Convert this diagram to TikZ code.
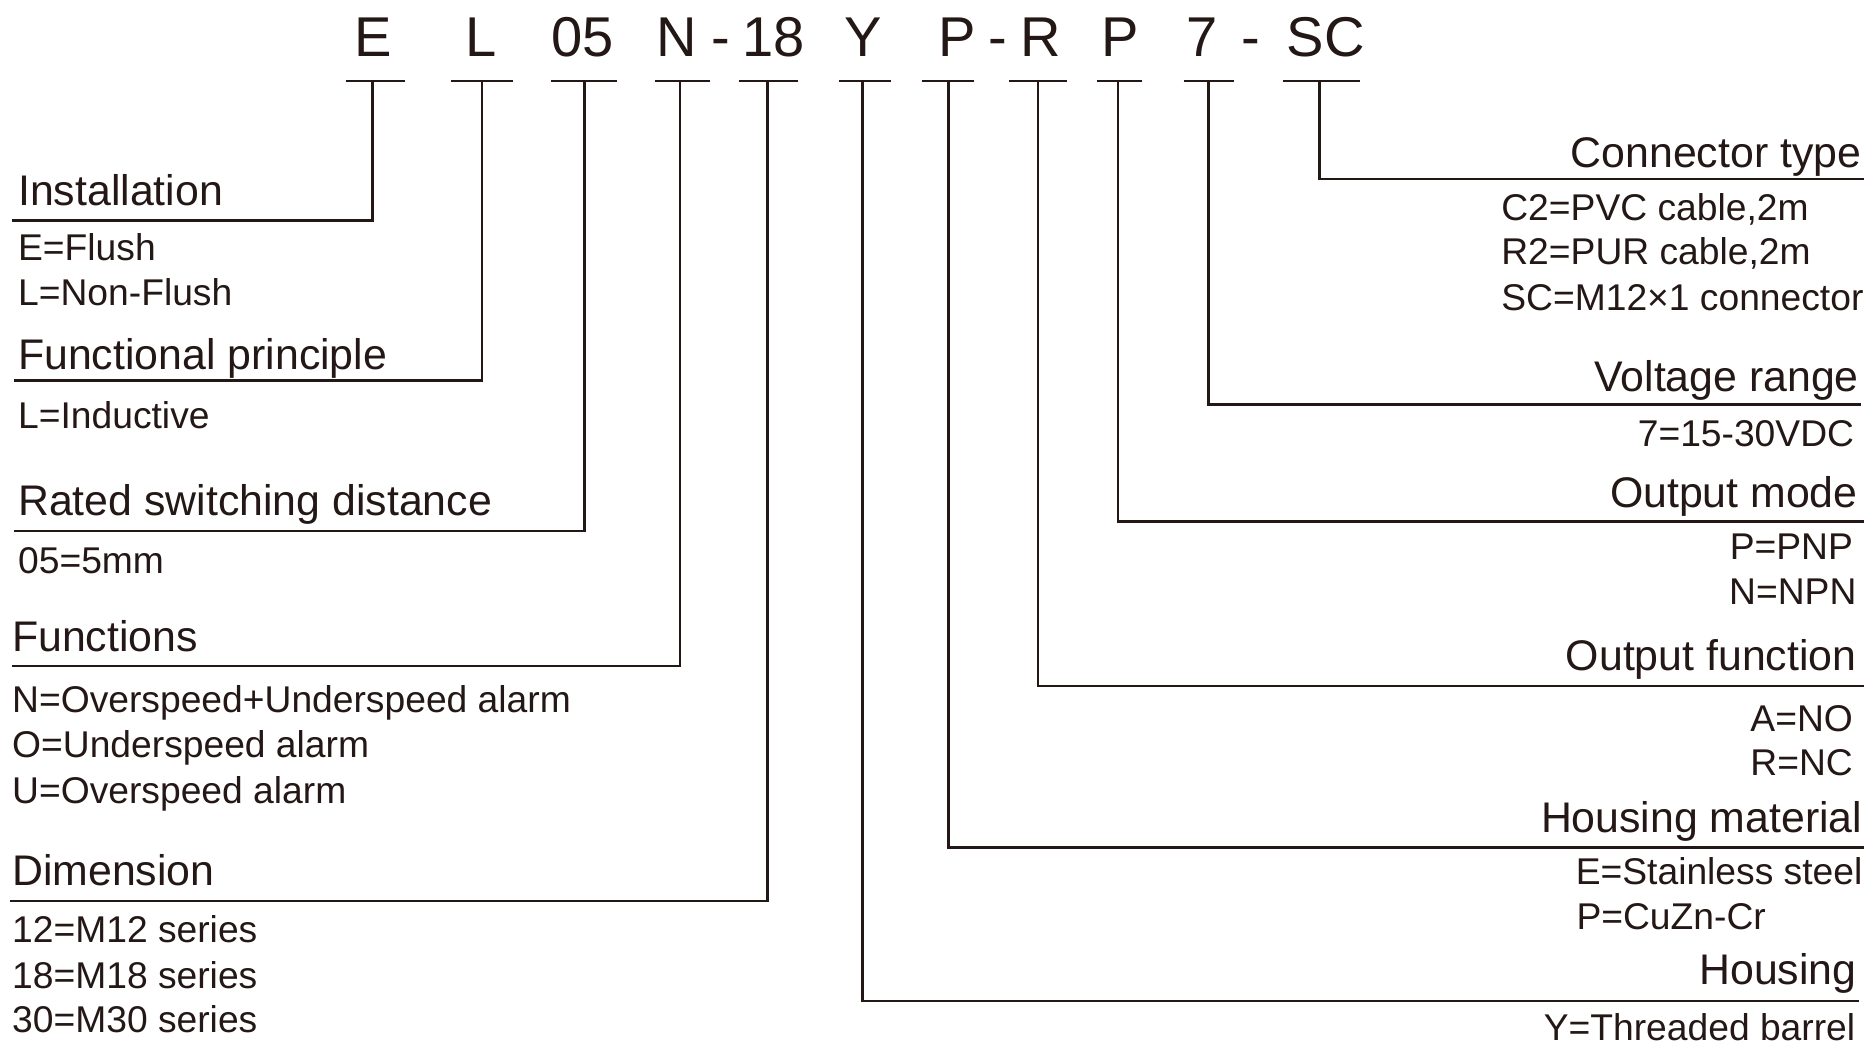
\documentclass[tikz,border=0pt]{standalone}
\usepackage{fontspec}
\setmainfont{Liberation Sans}
\definecolor{ink}{RGB}{35,24,21}
\begin{document}
\begin{tikzpicture}[x=1pt,y=-1pt,
  codechar/.style={inner sep=0pt,anchor=base,text=ink,font=\fontsize{47}{50}\selectfont},
  title/.style={inner sep=0pt,text=ink,font=\fontsize{35.9}{40}\selectfont},
  item/.style={inner sep=0pt,text=ink,font=\fontsize{31.2}{36}\selectfont},
  conn/.style={draw=ink,line width=2.2pt,line cap=butt,line join=miter},
  bar/.style={draw=ink,line width=2.2pt}]
\useasboundingbox[fill=white] (0,0) rectangle (1568,876);
% code characters
\node[codechar] (cE) at (313,47) {E};
\node[codechar] (cL) at (403,47) {L};
\node[codechar] (c05) at (488,47) {05};
\node[codechar] (cN) at (567,47) {N};
\node[codechar] (d1) at (604,47) {-};
\node[codechar] (c18) at (648,47) {18};
\node[codechar] (cY) at (723,47) {Y};
\node[codechar] (cP) at (802,47) {P};
\node[codechar] (d2) at (836,47) {-};
\node[codechar] (cR) at (872,47) {R};
\node[codechar] (cP2) at (939,47) {P};
\node[codechar] (c7) at (1007,47) {7};
\node[codechar] (d3) at (1048,47) {-};
\node[codechar] (cSC) at (1111,47) {SC};
% underline bars
\draw[bar] (290,68) -- (339,68);
\draw[bar] (378,68) -- (430,68);
\draw[bar] (462,68) -- (517,68);
\draw[bar] (549,68) -- (595,68);
\draw[bar] (619,68) -- (669,68);
\draw[bar] (703,68) -- (747,68);
\draw[bar] (773,68) -- (816,68);
\draw[bar] (846,68) -- (894,68);
\draw[bar] (919,68) -- (957,68);
\draw[bar] (992,68) -- (1034,68);
\draw[bar] (1075,68) -- (1140,68);
% bar coordinates
\coordinate (bE) at (312,68);
\coordinate (bL) at (404,68);
\coordinate (b05) at (490,68);
\coordinate (bN) at (570,68);
\coordinate (b18) at (643,68);
\coordinate (bY) at (723,68);
\coordinate (bP) at (795,68);
\coordinate (bR) at (870,68);
\coordinate (bP2) at (937,68);
\coordinate (b7) at (1013,68);
\coordinate (bSC) at (1106,68);
% left titles and items
\node[title,anchor=base west] (tInst) at (15,172) {Installation};
\node[item,anchor=base west] (iInst1) at (15,218) {E=Flush};
\node[item,anchor=base west] (iInst2) at (15,256) {L=Non-Flush};
\node[title,anchor=base west] (tFP) at (15,310) {Functional principle};
\node[item,anchor=base west] (iFP1) at (15,359) {L=Inductive};
\node[title,anchor=base west] (tRSD) at (15,432) {Rated switching distance};
\node[item,anchor=base west] (iRSD1) at (15,481) {05=5mm};
\node[title,anchor=base west] (tFun) at (10,546) {Functions};
\node[item,anchor=base west] (iFun1) at (10,597) {N=Overspeed+Underspeed alarm};
\node[item,anchor=base west] (iFun2) at (10,635) {O=Underspeed alarm};
\node[item,anchor=base west] (iFun3) at (10,673) {U=Overspeed alarm};
\node[title,anchor=base west] (tDim) at (10,742) {Dimension};
\node[item,anchor=base west] (iDim1) at (10,790) {12=M12 series};
\node[item,anchor=base west] (iDim2) at (10,828) {18=M18 series};
\node[item,anchor=base west] (iDim3) at (10,865) {30=M30 series};
% right titles and items
\node[title,anchor=base east] (tCon) at (1560,140) {Connector type};
\node[item,anchor=base west] (iCon1) at (1258,185) {C2=PVC cable,2m};
\node[item,anchor=base west] (iCon2) at (1258,222) {R2=PUR cable,2m};
\node[item,anchor=base west] (iCon3) at (1258,260) {SC=M12×1 connector};
\node[title,anchor=base east] (tVol) at (1558,328) {Voltage range};
\node[item,anchor=base east] (iVol1) at (1554,374) {7=15-30VDC};
\node[title,anchor=base east] (tOM) at (1557,425) {Output mode};
\node[item,anchor=base east] (iOM1) at (1553,469) {P=PNP};
\node[item,anchor=base east] (iOM2) at (1556,507) {N=NPN};
\node[title,anchor=base east] (tOF) at (1556,562) {Output function};
\node[item,anchor=base east] (iOF1) at (1553,613) {A=NO};
\node[item,anchor=base east] (iOF2) at (1553,650) {R=NC};
\node[title,anchor=base east] (tHM) at (1561,698) {Housing material};
\node[item,anchor=base east] (iHM1) at (1561,741) {E=Stainless steel};
\node[item,anchor=base west] (iHM2) at (1321,779) {P=CuZn-Cr};
\node[title,anchor=base east] (tHou) at (1556,825) {Housing};
\node[item,anchor=base east] (iHou1) at (1555,872) {Y=Threaded barrel};
% line ends
\coordinate (eInst) at (10,185);
\coordinate (eFP) at (12,319);
\coordinate (eRSD) at (12,445);
\coordinate (eFun) at (10,558);
\coordinate (eDim) at (8,755);
\coordinate (eCon) at (1562,150);
\coordinate (eVol) at (1560,339);
\coordinate (eOM) at (1562,437);
\coordinate (eOF) at (1562,575);
\coordinate (eHM) at (1562,710);
\coordinate (eHou) at (1558,839);
% connectors
\draw[conn] (bE) |- (eInst);
\draw[conn] (bL) |- (eFP);
\draw[conn] (b05) |- (eRSD);
\draw[conn] (bN) |- (eFun);
\draw[conn] (b18) |- (eDim);
\draw[conn] (bY) |- (eHou);
\draw[conn] (bP) |- (eHM);
\draw[conn] (bR) |- (eOF);
\draw[conn] (bP2) |- (eOM);
\draw[conn] (b7) |- (eVol);
\draw[conn] (bSC) |- (eCon);
\end{tikzpicture}
\end{document}
